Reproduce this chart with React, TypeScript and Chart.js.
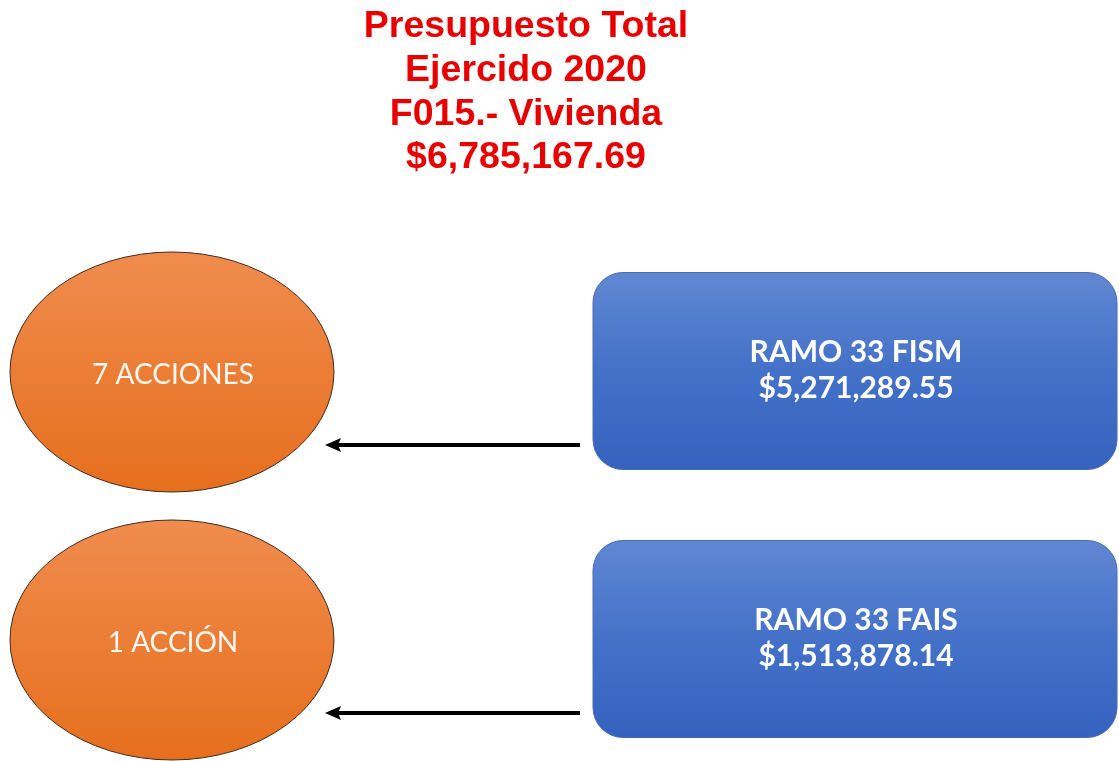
import React, { useEffect, useRef } from 'react';
import { Chart, registerables } from 'chart.js';

Chart.register(...registerables);

// ---- data ----
const titleLines = ['Presupuesto Total', 'Ejercido 2020', 'F015.- Vivienda'];
const totalBudget = 6785167.69;
const actionLabels = ['7 ACCIONES', '1 ACCIÓN'];
const fundNames = ['RAMO 33 FISM', 'RAMO 33 FAIS'];
const fundAmounts = [5271289.55, 1513878.14];

const money = (v: number) =>
  '$' + v.toLocaleString('en-US', { minimumFractionDigits: 2, maximumFractionDigits: 2 });

const W = 1119;
const H = 761;

const diagramPlugin = {
  id: 'diagram',
  afterDatasetsDraw(chart: any) {
    const ctx: CanvasRenderingContext2D = chart.ctx;
    ctx.save();

    // Title
    ctx.fillStyle = '#E80000';
    ctx.font = 'bold 37.5px "Liberation Sans", Arial, sans-serif';
    ctx.textAlign = 'center';
    ctx.textBaseline = 'alphabetic';
    const lines = [...titleLines, money(totalBudget)];
    const baselines = [37, 81, 125, 168];
    lines.forEach((l, i) => ctx.fillText(l, 526, baselines[i]));

    const actMeta = chart.getDatasetMeta(0);
    const fundMeta = chart.getDatasetMeta(1);

    // Ellipses
    actMeta.data.forEach((pt: any, i: number) => {
      const cx = pt.x, cy = pt.y;
      const rx = 162, ry = 120;
      const g = ctx.createLinearGradient(0, cy - ry, 0, cy + ry);
      g.addColorStop(0, '#F08C4E');
      g.addColorStop(1, '#E66F1D');
      ctx.beginPath();
      ctx.ellipse(cx, cy, rx, ry, 0, 0, Math.PI * 2);
      ctx.fillStyle = g;
      ctx.fill();
      ctx.lineWidth = 1;
      ctx.strokeStyle = '#3a2a20';
      ctx.stroke();
      ctx.fillStyle = '#FFF8F2';
      ctx.font = '28px Lato, "Open Sans", sans-serif';
      ctx.textAlign = 'center';
      ctx.fillText(actionLabels[i], cx + 1, cy + 12);
    });

    // Boxes
    fundMeta.data.forEach((pt: any, i: number) => {
      const cx = pt.x, cy = pt.y - 1;
      const bw = 524, bh = 197, r = 30;
      const x0 = cx - bw / 2, y0 = cy - bh / 2;
      const g = ctx.createLinearGradient(0, y0, 0, y0 + bh);
      g.addColorStop(0, '#6087D2');
      g.addColorStop(0.5, '#4471C8');
      g.addColorStop(1, '#3462BE');
      ctx.beginPath();
      ctx.moveTo(x0 + r, y0);
      ctx.lineTo(x0 + bw - r, y0);
      ctx.arcTo(x0 + bw, y0, x0 + bw, y0 + r, r);
      ctx.lineTo(x0 + bw, y0 + bh - r);
      ctx.arcTo(x0 + bw, y0 + bh, x0 + bw - r, y0 + bh, r);
      ctx.lineTo(x0 + r, y0 + bh);
      ctx.arcTo(x0, y0 + bh, x0, y0 + bh - r, r);
      ctx.lineTo(x0, y0 + r);
      ctx.arcTo(x0, y0, x0 + r, y0, r);
      ctx.closePath();
      ctx.fillStyle = g;
      ctx.fill();
      ctx.lineWidth = 1;
      ctx.strokeStyle = '#4A6AAE';
      ctx.stroke();

      ctx.fillStyle = '#FFFFFF';
      ctx.font = 'bold 30px Lato, "Open Sans", sans-serif';
      ctx.textAlign = 'center';
      ctx.fillText(fundNames[i], cx + 1, cy - 9);
      ctx.fillText(money(fundAmounts[i]), cx + 1, cy + 27);

      // Arrow from box to ellipse
      const a = actMeta.data[i];
      const ay = a.y + 73;
      const xStart = x0 - 13;
      const xEnd = a.x + 153;
      ctx.strokeStyle = '#000';
      ctx.lineWidth = 4;
      ctx.beginPath();
      ctx.moveTo(xStart, ay);
      ctx.lineTo(xEnd + 12, ay);
      ctx.stroke();
      ctx.fillStyle = '#000';
      ctx.beginPath();
      ctx.moveTo(xEnd, ay);
      ctx.lineTo(xEnd + 16, ay - 7);
      ctx.lineTo(xEnd + 13, ay);
      ctx.lineTo(xEnd + 16, ay + 7);
      ctx.closePath();
      ctx.fill();
    });

    ctx.restore();
  },
};

export default function App() {
  const ref = useRef<HTMLCanvasElement | null>(null);

  useEffect(() => {
    if (!ref.current) return;
    const chart = new Chart(ref.current, {
      type: 'scatter',
      data: {
        datasets: [
          {
            label: 'Acciones',
            data: actionLabels.map((_, i) => ({ x: 0, y: i })),
            pointRadius: 0,
          },
          {
            label: 'Fondos',
            data: fundAmounts.map((_, i) => ({ x: 1, y: i })),
            pointRadius: 0,
          },
        ],
      },
      options: {
        responsive: false,
        animation: false,
        layout: { padding: 0 },
        events: [],
        plugins: {
          legend: { display: false },
          tooltip: { enabled: false },
          title: { display: false },
        },
        scales: {
          x: { type: 'linear', display: false, min: -0.2518, max: 1.3865 },
          y: { type: 'linear', display: false, reverse: true, min: -1.3881, max: 1.4515 },
        },
      },
      plugins: [diagramPlugin],
    });
    return () => chart.destroy();
  }, []);

  return (
    <div style={{ position: 'absolute', left: 0, top: 0, width: W, height: H, background: '#fff' }}>
      <canvas ref={ref} width={W} height={H} style={{ width: W, height: H, display: 'block' }} />
    </div>
  );
}
